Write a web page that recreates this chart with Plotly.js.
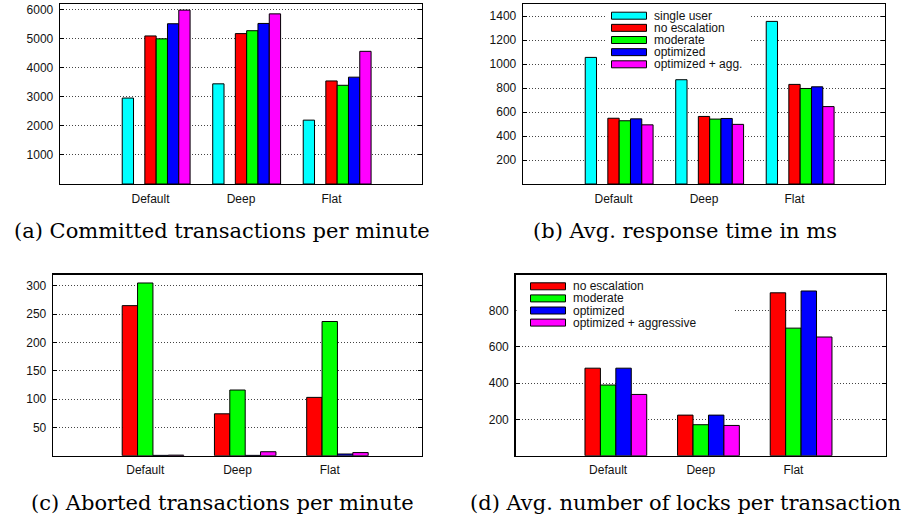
<!DOCTYPE html>
<html><head><meta charset="utf-8">
<script src="https://cdn.plot.ly/plotly-3.0.1.min.js"></script>
<style>html,body{margin:0;padding:0;background:#fff}#chart{width:909px;height:521px}</style>
</head><body><div id="chart"></div>
<script>
// ---- data ----
const categories = ['Default', 'Deep', 'Flat'];
const namesTop = ['single user', 'no escalation', 'moderate', 'optimized', 'optimized + agg.'];
const namesBottom = ['no escalation', 'moderate', 'optimized', 'optimized + aggressive'];
const colorsTop = ['#00ffff', '#ff0000', '#00ff00', '#0000ff', '#ff00ff'];
const colorsBottom = ['#ff0000', '#00ff00', '#0000ff', '#ff00ff'];

// (a) committed transactions per minute
const committedSingle = [2960, 3450, 2200];
const committedNoEsc = [5100, 5180, 3550];
const committedModerate = [5000, 5280, 3400];
const committedOptimized = [5520, 5530, 3680];
const committedOptAgg = [5990, 5860, 4570];

// (b) avg. response time in ms
const respSingle = [1055, 869, 1355];
const respNoEsc = [548, 563, 830];
const respModerate = [527, 541, 796];
const respOptimized = [543, 546, 810];
const respOptAgg = [493, 497, 645];

// (c) aborted transactions per minute
const abortNoEsc = [265, 74, 103];
const abortModerate = [305, 116, 237];
const abortOptimized = [0.6, 0.6, 3];
const abortOptAgg = [1, 7, 5.5];

// (d) avg. number of locks per transaction
const locksNoEsc = [483, 224, 899];
const locksModerate = [390, 171, 704];
const locksOptimized = [483, 224, 909];
const locksOptAgg = [338, 167, 655];

const ticksA = [1000, 2000, 3000, 4000, 5000, 6000];
const ticksB = [200, 400, 600, 800, 1000, 1200, 1400];
const ticksC = [50, 100, 150, 200, 250, 300];
const ticksD = [200, 400, 600, 800];

const captions = ['(a) Committed transactions per minute', '(b) Avg. response time in ms',
                  '(c) Aborted transactions per minute', '(d) Avg. number of locks per transaction'];

// ---- helpers ----
const W = 909, H = 521;
const px = v => v / W;
const py = v => 1 - v / H;
const sans = 'Liberation Sans, Arial, Helvetica, sans-serif';

function bar(xa, ya, y, color, offset, width) {
  return {type: 'bar', x: categories, y: y, xaxis: xa, yaxis: ya, offset: offset, width: width,
    marker: {color: color, line: {color: '#000', width: 1}}, showlegend: false, hoverinfo: 'skip'};
}

const traces = [];
// top row: 6 slots of 1/8, slot 1 empty, tick at slot 2
const sT = 0.125;
const offTop = [0, 2, 3, 4, 5].map(j => (j - 2) * sT - sT / 2);
[committedSingle, committedNoEsc, committedModerate, committedOptimized, committedOptAgg]
  .forEach((s, i) => traces.push(bar('x', 'y', s, colorsTop[i], offTop[i], sT)));
[respSingle, respNoEsc, respModerate, respOptimized, respOptAgg]
  .forEach((s, i) => traces.push(bar('x2', 'y2', s, colorsTop[i], offTop[i], sT)));
// bottom row: 4 slots of 1/6, tick at slot 1
const sB = 1 / 6;
const offBot = [0, 1, 2, 3].map(j => (j - 1) * sB - sB / 2);
[abortNoEsc, abortModerate, abortOptimized, abortOptAgg]
  .forEach((s, i) => traces.push(bar('x3', 'y3', s, colorsBottom[i], offBot[i], sB)));
[locksNoEsc, locksModerate, locksOptimized, locksOptAgg]
  .forEach((s, i) => traces.push(bar('x4', 'y4', s, colorsBottom[i], offBot[i], sB)));

function xax(l, r, anchor) {
  return {domain: [px(l), px(r)], anchor: anchor, type: 'category', range: [-1, 3],
    showline: true, linecolor: '#000', linewidth: 1.3, mirror: true, ticks: '', showgrid: false,
    zeroline: false, fixedrange: true, ticklabelstandoff: 3,
    tickfont: {family: sans, size: 12, color: '#111'}};
}
function yax(t, b, anchor, range, tv) {
  return {domain: [py(b), py(t)], anchor: anchor, range: range, tickvals: tv,
    showline: true, linecolor: '#000', linewidth: 1.3, mirror: 'ticks', ticks: 'inside', ticklen: 4,
    tickcolor: '#000', tickwidth: 1, showgrid: true, gridcolor: '#444', griddash: '1px,2px', gridwidth: 1,
    zeroline: false, fixedrange: true, ticklabelstandoff: 3,
    tickfont: {family: sans, size: 12, color: '#111'}};
}

const shapes = [], annotations = [];
function legend(boxL, boxT, boxR, boxB, swL, swR, row0, rowStep, textX, names, colors) {
  shapes.push({type: 'rect', xref: 'paper', yref: 'paper', layer: 'above',
    x0: px(boxL), x1: px(boxR), y0: py(boxB), y1: py(boxT), fillcolor: '#fff', line: {width: 0}});
  names.forEach((n, i) => {
    const c = row0 + i * rowStep;
    shapes.push({type: 'rect', xref: 'paper', yref: 'paper', layer: 'above',
      x0: px(swL), x1: px(swR), y0: py(c + 3.5), y1: py(c - 3.5), fillcolor: colors[i],
      line: {color: '#000', width: 1}});
    annotations.push({xref: 'paper', yref: 'paper', x: px(textX), y: py(c), xanchor: 'left', yanchor: 'middle',
      text: n, showarrow: false, borderpad: 0,
      font: {family: sans, size: 12, color: '#111'}});
  });
}
legend(606, 5, 749, 72, 611.5, 646.5, 15.7, 12.15, 653, namesTop, colorsTop);
legend(516.5, 275.5, 734, 330, 530.5, 565.5, 286.3, 12.1, 572, namesBottom, colorsBottom);

const capPos = [[222, 231], [685, 231], [222, 503], [685, 503]];
captions.forEach((c, i) => annotations.push({xref: 'paper', yref: 'paper', x: px(capPos[i][0]), y: py(capPos[i][1]),
  xanchor: 'center', yanchor: 'middle', text: c, showarrow: false,
  font: {family: 'DejaVu Serif, serif', size: 21, color: '#000'}}));

const layout = {
  width: W, height: H, margin: {l: 0, r: 0, t: 0, b: 0}, paper_bgcolor: '#fff', plot_bgcolor: '#fff',
  showlegend: false, barmode: 'overlay',
  xaxis: xax(60, 422, 'y'), yaxis: yax(4, 184, 'x', [0, 6200], ticksA),
  xaxis2: xax(523, 885, 'y2'), yaxis2: yax(4, 184, 'x2', [0, 1500], ticksB),
  xaxis3: xax(53, 422, 'y3'), yaxis3: yax(274.5, 455.7, 'x3', [0, 320], ticksC),
  xaxis4: xax(515.5, 886, 'y4'), yaxis4: yax(274.5, 455.7, 'x4', [0, 1000], ticksD),
  shapes: shapes, annotations: annotations
};
Plotly.newPlot('chart', traces, layout, {staticPlot: true, displayModeBar: false});
</script></body></html>
